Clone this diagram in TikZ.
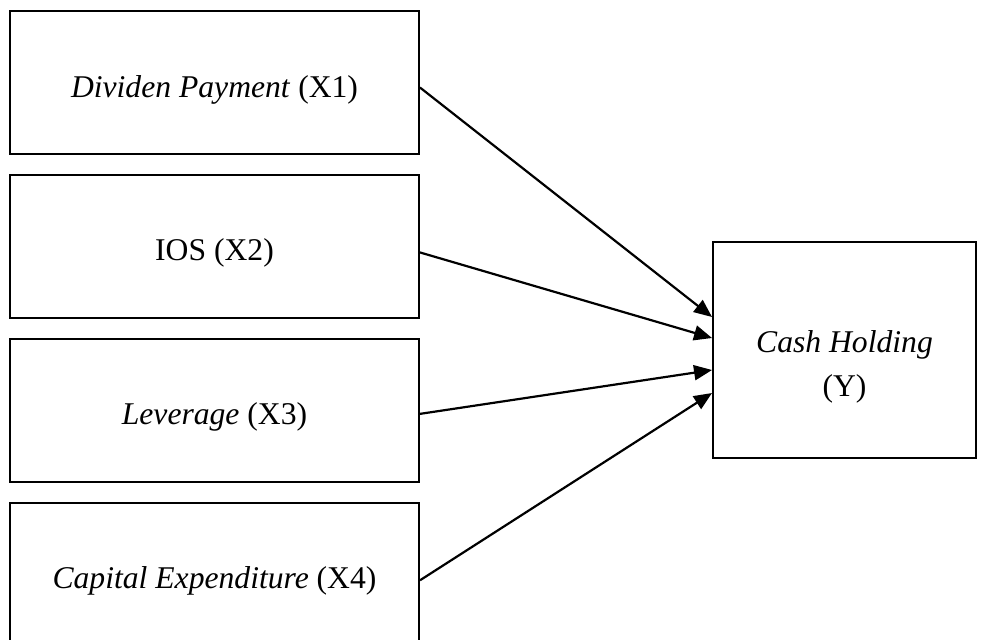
\documentclass[tikz,border=0pt]{standalone}
\usepackage{fontspec}
\setmainfont{Liberation Serif}
\usepackage{tikz}
\usetikzlibrary{arrows.meta,positioning}

\begin{document}
\begin{tikzpicture}[>={Triangle[length=0.36cm,width=0.3cm]},
  varbox/.style={draw, line width=1.1pt, minimum width=8.18cm, minimum height=2.86cm,
    inner sep=0pt, text height=0.7cm, text depth=0.12cm, font=\fontsize{18}{24.5}\selectfont},
  depbox/.style={varbox, minimum width=5.26cm, minimum height=4.32cm, align=center,
    text height=1.96cm, text depth=0.12cm},
  link/.style={->, line width=1.25pt},
  node distance=0.38cm]

  \useasboundingbox (0,0) rectangle (19.72,-12.78);

  % Define the independent variables
  \node[varbox] (X1) at (4.29, -1.65) {\textit{Dividen Payment} (X1)};
  \node[varbox, below=of X1] (X2) {IOS (X2)};
  \node[varbox, below=of X2] (X3) {\textit{Leverage} (X3)};
  \node[varbox, below=of X3] (X4) {\textit{Capital Expenditure} (X4)};

  % Define the dependent variable
  \node[depbox] (Y) at (16.89, -7.0) {\textit{Cash Holding}\\(Y)};

  % Draw arrows between nodes
  \draw[link] ([yshift=-0.1cm]X1.east) to ([yshift=0.66cm]Y.west);
  \draw[link] ([yshift=-0.12cm]X2.east) to ([yshift=0.24cm]Y.west);
  \draw[link] ([yshift=-0.07cm]X3.east) to ([yshift=-0.4cm]Y.west);
  \draw[link] ([yshift=-0.12cm]X4.east) to ([yshift=-0.86cm]Y.west);
\end{tikzpicture}
\end{document}
